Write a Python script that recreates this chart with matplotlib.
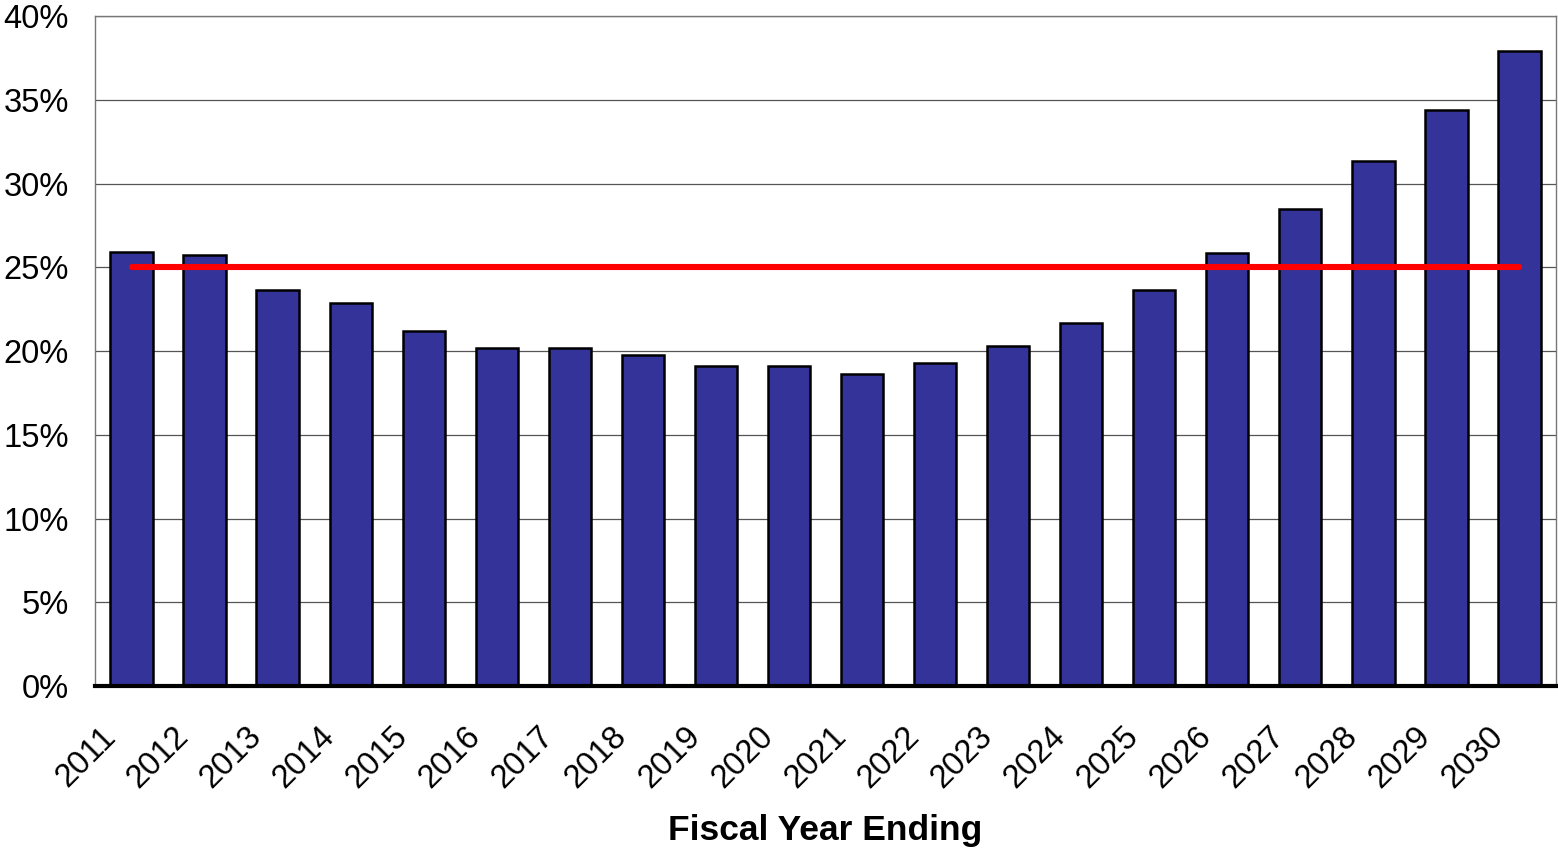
import matplotlib
matplotlib.use('Agg')
import matplotlib.pyplot as plt
from matplotlib.ticker import PercentFormatter
from matplotlib.transforms import ScaledTranslation

years = [str(y) for y in range(2011, 2031)]
values = [25.93, 25.71, 23.63, 22.88, 21.2, 20.17, 20.17, 19.77, 19.13, 19.13,
          18.64, 19.27, 20.29, 21.7, 23.63, 25.83, 28.5, 31.33, 34.42, 37.89]
target = 25.0
yticks = [0, 5, 10, 15, 20, 25, 30, 35, 40]

plt.rcParams['font.family'] = ['Liberation Sans', 'DejaVu Sans']

fig = plt.figure(figsize=(15.58, 8.48), dpi=100)
ax = fig.add_axes([0.061, 0.191, 0.9377, 0.790])

x = list(range(len(years)))
ax.bar(x, values, width=0.58, color='#333399', edgecolor='black', linewidth=1.8, zorder=2)
ax.plot([x[0], x[-1]], [target, target], color='#ff0000', linewidth=4.4,
        solid_capstyle='round', zorder=3)

ax.set_xlim(-0.5, len(years) - 0.5)
ax.set_ylim(0, 40)
ax.set_yticks(yticks)
ax.yaxis.set_major_formatter(PercentFormatter(decimals=0))
ax.grid(axis='y', color='#555555', linewidth=0.9, zorder=0)
ax.set_axisbelow(True)

ax.set_xticks(x)
ax.set_xticklabels(years, rotation=45, ha='right', va='bottom', rotation_mode='anchor')
ax.tick_params(axis='x', length=0, pad=41, labelsize=23.5)
ax.tick_params(axis='y', length=0, pad=19, labelsize=23.5)
# nudge the slanted year labels a little to the left, like the original
shift = ScaledTranslation(-7 / 72, 0, fig.dpi_scale_trans)
for lab in ax.get_xticklabels():
    lab.set_transform(lab.get_transform() + shift)

for side in ['top', 'right', 'left']:
    ax.spines[side].set_color('#777777')
    ax.spines[side].set_linewidth(1.0)
ax.spines['bottom'].set_linewidth(3)
ax.spines['bottom'].set_zorder(4)

ax.set_xlabel('Fiscal Year Ending', fontsize=25.5, fontweight='bold', labelpad=14)

fig.savefig('out.png', dpi=100)
